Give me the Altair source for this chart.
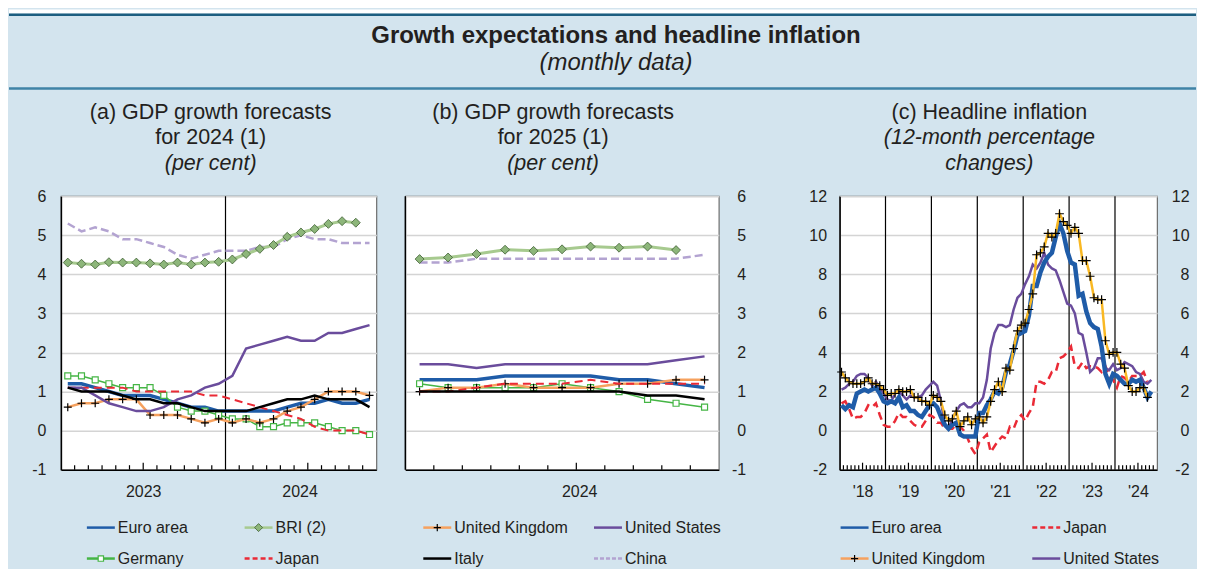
import altair as alt
import pandas as pd

FONT = "Liberation Sans"
BG = "#d3e4ee"
INK = "#231f20"

# ---------------- data ----------------
# Panel (a): GDP growth forecasts for 2024, monthly Jan 2023 - Nov 2024
A_EURO = [1.2, 1.2, 1.1, 1.0, 0.9, 0.9, 0.9, 0.8, 0.7, 0.6, 0.6, 0.5, 0.5, 0.5, 0.5, 0.5, 0.6, 0.7, 0.7, 0.8, 0.7, 0.7, 0.8]
A_BRI = [4.3, 4.27, 4.25, 4.31, 4.3, 4.3, 4.28, 4.25, 4.3, 4.25, 4.3, 4.32, 4.38, 4.52, 4.65, 4.75, 4.96, 5.07, 5.16, 5.29, 5.36, 5.32]
A_UK = [0.6, 0.7, 0.7, 0.8, 0.8, 0.8, 0.4, 0.4, 0.4, 0.3, 0.2, 0.3, 0.2, 0.3, 0.2, 0.3, 0.5, 0.6, 0.8, 1.0, 1.0, 1.0, 0.9]
A_US = [1.1, 1.1, 0.9, 0.7, 0.6, 0.5, 0.5, 0.6, 0.8, 0.9, 1.1, 1.2, 1.4, 2.1, 2.2, 2.3, 2.4, 2.3, 2.3, 2.5, 2.5, 2.6, 2.7]
A_GERMANY = [1.4, 1.4, 1.3, 1.2, 1.1, 1.1, 1.1, 0.9, 0.6, 0.5, 0.5, 0.4, 0.3, 0.3, 0.1, 0.1, 0.2, 0.2, 0.2, 0.1, 0.0, 0.0, -0.1]
A_JAPAN = [1.1, 1.1, 1.1, 1.1, 1.1, 1.0, 1.0, 1.0, 1.0, 1.0, 0.9, 0.9, 0.8, 0.7, 0.6, 0.5, 0.4, 0.3, 0.1, 0.0, 0.0, 0.0, -0.1]
A_ITALY = [1.1, 1.0, 1.0, 1.0, 0.9, 0.8, 0.8, 0.7, 0.7, 0.6, 0.5, 0.5, 0.5, 0.5, 0.6, 0.7, 0.8, 0.8, 0.9, 0.8, 0.8, 0.8, 0.6]
A_CHINA = [5.3, 5.1, 5.2, 5.1, 4.9, 4.9, 4.8, 4.7, 4.5, 4.4, 4.5, 4.6, 4.6, 4.6, 4.7, 4.7, 4.9, 5.0, 4.9, 4.9, 4.8, 4.8, 4.8]

# Panel (b): GDP growth forecasts for 2025, monthly Jan 2024 - Nov 2024
B_EURO = [1.3, 1.3, 1.3, 1.4, 1.4, 1.4, 1.4, 1.3, 1.3, 1.2, 1.1]
B_BRI = [4.39, 4.43, 4.52, 4.63, 4.6, 4.64, 4.71, 4.68, 4.71, 4.62]
B_UK = [1.0, 1.1, 1.1, 1.2, 1.1, 1.1, 1.1, 1.2, 1.2, 1.3, 1.3]
B_US = [1.7, 1.7, 1.6, 1.7, 1.7, 1.7, 1.7, 1.7, 1.7, 1.8, 1.9]
B_GERMANY = [1.2, 1.1, 1.1, 1.1, 1.1, 1.2, 1.1, 1.0, 0.8, 0.7, 0.6]
B_JAPAN = [1.0, 1.0, 1.1, 1.2, 1.2, 1.2, 1.3, 1.2, 1.2, 1.2, 1.2]
B_ITALY = [1.0, 1.0, 1.0, 1.0, 1.0, 1.0, 1.0, 1.0, 0.9, 0.9, 0.8]
B_CHINA = [4.3, 4.3, 4.4, 4.4, 4.4, 4.4, 4.4, 4.4, 4.4, 4.4, 4.5]

# Panel (c): headline inflation, 12-month % changes, monthly from Jan 2018
C_EURO = [1.3, 1.1, 1.3, 1.2, 1.9, 2.0, 2.1, 2.0, 2.1, 2.2, 1.9, 1.5,
          1.4, 1.5, 1.4, 1.7, 1.2, 1.3, 1.0, 1.0, 0.8, 0.7, 1.0, 1.3,
          1.4, 1.2, 0.7, 0.3, 0.1, 0.3, 0.4, -0.2, -0.3, -0.3, -0.3, -0.3,
          0.9, 0.9, 1.3, 1.6, 2.0, 1.9, 2.2, 3.0, 3.4, 4.1, 4.9, 5.0,
          5.1, 5.9, 7.4, 7.4, 8.1, 8.6, 8.9, 9.1, 9.9, 10.6, 10.1, 9.2,
          8.6, 8.5, 6.9, 7.0, 6.1, 5.5, 5.3, 5.2, 4.3, 2.9, 2.4, 2.9,
          2.8, 2.6, 2.4, 2.4, 2.6, 2.5, 2.6, 2.2, 1.7, 2.0]
C_UK = [3.0, 2.7, 2.5, 2.4, 2.4, 2.4, 2.5, 2.7, 2.4, 2.4, 2.3, 2.1,
        1.8, 1.9, 1.9, 2.1, 2.0, 2.0, 2.1, 1.7, 1.7, 1.5, 1.5, 1.3,
        1.8, 1.7, 1.5, 0.8, 0.5, 0.6, 1.0, 0.2, 0.5, 0.7, 0.3, 0.6,
        0.7, 0.4, 0.7, 1.5, 2.1, 2.5, 2.0, 3.2, 3.1, 4.2, 5.1, 5.4,
        5.5, 6.2, 7.0, 9.0, 9.1, 9.4, 10.1, 9.9, 10.1, 11.1, 10.7, 10.5,
        10.1, 10.4, 10.1, 8.7, 8.7, 7.9, 6.8, 6.7, 6.7, 4.6, 3.9, 4.0,
        4.0, 3.4, 3.2, 2.3, 2.0, 2.0, 2.2, 2.2, 1.7]
C_US = [2.1, 2.2, 2.4, 2.5, 2.8, 2.9, 2.9, 2.7, 2.3, 2.5, 2.2, 1.9,
        1.6, 1.5, 1.9, 2.0, 1.8, 1.6, 1.8, 1.7, 1.7, 1.8, 2.1, 2.3,
        2.5, 2.3, 1.5, 0.3, 0.1, 0.6, 1.0, 1.3, 1.4, 1.2, 1.2, 1.4,
        1.4, 1.7, 2.6, 4.2, 5.0, 5.4, 5.4, 5.3, 5.4, 6.2, 6.8, 7.0,
        7.5, 7.9, 8.5, 8.3, 8.6, 9.1, 8.5, 8.3, 8.2, 7.7, 7.1, 6.5,
        6.4, 6.0, 5.0, 4.9, 4.0, 3.0, 3.2, 3.7, 3.7, 3.2, 3.1, 3.4,
        3.1, 3.2, 3.5, 3.4, 3.3, 3.0, 2.9, 2.5, 2.4, 2.6]
C_JAPAN = [1.4, 1.5, 1.1, 0.6, 0.7, 0.7, 0.9, 1.3, 1.2, 1.4, 0.8, 0.3,
           0.2, 0.2, 0.5, 0.9, 0.7, 0.7, 0.5, 0.3, 0.2, 0.2, 0.5, 0.8,
           0.7, 0.4, 0.4, 0.1, 0.1, 0.1, 0.3, 0.2, 0.0, -0.4, -0.9, -1.2,
           -0.6, -0.4, -0.2, -1.1, -0.8, -0.5, -0.3, -0.4, 0.2, 0.1, 0.6, 0.8,
           0.5, 0.9, 1.2, 2.5, 2.5, 2.4, 2.6, 3.0, 3.0, 3.7, 3.8, 4.0,
           4.3, 3.3, 3.2, 3.5, 3.2, 3.3, 3.3, 3.2, 3.0, 3.3, 2.8, 2.6,
           2.2, 2.8, 2.7, 2.5, 2.8, 2.8, 2.8, 3.0, 2.5]

A_YEARS = ["2023", "2024"]
B_YEARS = ["2024"]
C_YEARS = ["'18", "'19", "'20", "'21", "'22", "'23", "'24"]

# ---------------- styles ----------------
PLUS = "M-1,0L1,0M0,-1L0,1"
STY = {
    "Euro area": dict(color="#1f5ca8", width=3.5),
    "BRI (2)": dict(color="#a7ca8f", width=3, marker="diamond"),
    "United Kingdom": dict(color="#f6a15e", width=2.5, marker="plus"),
    "United States": dict(color="#6a4c9c", width=2.5),
    "Germany": dict(color="#45b545", width=1.5, marker="square"),
    "Japan": dict(color="#ea2a36", width=2, dash=[8, 5], ldash=[5, 3]),
    "Italy": dict(color="#000000", width=2.5),
    "China": dict(color="#b3a3d1", width=2.5, dash=[8, 4], ldash=[4, 2]),
}
C_STY = {
    "Euro area": dict(color="#1f5ca8", width=4.5),
    "United Kingdom": dict(color="#f9b823", width=2.5, marker="plus"),
    "United States": dict(color="#6a4c9c", width=2.5),
    "Japan": dict(color="#ea2a36", width=2.5, dash=[8, 5], ldash=[5, 3]),
}
H = 274
one = pd.DataFrame({"k": [0]})

XAX = dict(ticks=False, tickSize=0, grid=False, domainColor="black", domainWidth=1.5,
           labelFontSize=16, labelColor=INK, labelFont=FONT, labelPadding=14,
           labelFlush=False, labelOverlap=False)
YAX = dict(ticks=False, tickSize=0, labelFontSize=16, labelColor=INK, labelFont=FONT,
           labelExpr="'' + datum.value", labelFlush=False, labelOverlap=False,
           gridColor="#d4d4d4", gridWidth=1.5)


def frame(values, offset=0.5):
    return pd.DataFrame({"m": [i + offset for i in range(len(values))], "v": values})


def marker_mark(kind, color, scale=1.0):
    if kind == "diamond":
        return dict(shape="diamond", filled=True, fill="#8db67a", stroke="#3f5e33",
                    strokeWidth=0.8, size=80 * scale, opacity=1)
    if kind == "square":
        return dict(shape="square", filled=True, fill="white", stroke=color,
                    strokeWidth=1.2, size=36 * scale, opacity=1)
    return dict(shape=PLUS, filled=False, stroke="black", strokeWidth=1.2,
                size=64 * scale, opacity=1)


def series(values, sty, xsc, ysc, xaxis=None, yaxis=None, msize=1.0):
    df = frame(values)
    kw = dict(color=sty["color"], strokeWidth=sty["width"])
    if "dash" in sty:
        kw["strokeDash"] = sty["dash"]
    enc = dict(x=alt.X("m:Q", scale=xsc, axis=xaxis, title=None),
               y=alt.Y("v:Q", scale=ysc, axis=yaxis, title=None))
    out = [alt.Chart(df).mark_line(**kw).encode(**enc)]
    if "marker" in sty:
        out.append(alt.Chart(df).mark_point(**marker_mark(sty["marker"], sty["color"], msize)).encode(
            x=alt.X("m:Q", scale=xsc, axis=None), y=alt.Y("v:Q", scale=ysc, axis=None)))
    return out


def ticks(positions, length, xsc):
    df = pd.DataFrame({"m": positions})
    return alt.Chart(df).mark_rule(color="black", strokeWidth=1.2).encode(
        x=alt.X("m:Q", scale=xsc, axis=None), y=alt.value(H), y2=alt.value(H - length))


def vlines(positions, xsc):
    df = pd.DataFrame({"m": positions})
    return alt.Chart(df).mark_rule(color="black", strokeWidth=1.2).encode(
        x=alt.X("m:Q", scale=xsc, axis=None))


def text(s, x, y, size=16, weight="normal", style="normal", align="center"):
    return alt.Chart(one).mark_text(text=s, fontSize=size, fontWeight=weight, fontStyle=style,
                                    align=align, baseline="middle", color=INK, font=FONT).encode(
        x=alt.value(x), y=alt.value(y))


def box(x, x2, y, y2, color):
    return alt.Chart(one).mark_rect(color=color).encode(
        x=alt.value(x), x2=alt.value(x2), y=alt.value(y), y2=alt.value(y2))


def legend_entry(label, sty, x, y):
    kw = dict(color=sty["color"], strokeWidth=2.5)
    if "ldash" in sty:
        kw["strokeDash"] = sty["ldash"]
    out = [alt.Chart(one).mark_rule(**kw).encode(x=alt.value(x), x2=alt.value(x + 28), y=alt.value(y))]
    if "marker" in sty:
        out.append(alt.Chart(one).mark_point(**marker_mark(sty["marker"], sty["color"], 0.8)).encode(
            x=alt.value(x + 14), y=alt.value(y)))
    out.append(text(label, x + 31, y, size=16, align="left"))
    return out


def panel_title(lines, x):
    ys = [-83, -58, -32]
    return [text(s, x, ys[i], size=21.5, style=("italic" if it else "normal"))
            for i, (s, it) in enumerate(lines)]


ORDER = ["China", "BRI (2)", "Euro area", "Germany", "United Kingdom", "Japan", "United States", "Italy"]

# page frame (relative to the plot origin of panel a); the whole chart must fit 1189 x 559
LEFT, RIGHT, TOP, BOTTOM = -52, 1137, -187, 372

# ---------------- panel (a) ----------------
xa = alt.Scale(domain=[0, 23], nice=False, zero=False)
ya = alt.Scale(domain=[-1, 6], nice=False, zero=False)
A_DATA = {"Euro area": A_EURO, "BRI (2)": A_BRI, "United Kingdom": A_UK, "United States": A_US,
          "Germany": A_GERMANY, "Japan": A_JAPAN, "Italy": A_ITALY, "China": A_CHINA}
ax_a_x = alt.Axis(values=[6, 17.4], labelExpr="datum.value == 6 ? '%s' : '%s'" % tuple(A_YEARS), **XAX)
ax_a_y = alt.Axis(values=list(range(-1, 7)), orient="left", grid=True, domainColor="black",
                  domainWidth=1.5, labelPadding=15, **YAX)

layers_a = [
    box(LEFT, RIGHT, TOP, TOP + 4, "white"),
    box(LEFT, RIGHT, TOP + 4, TOP + 6.5, "#1c5e80"),
    box(LEFT, RIGHT, -109, -106.5, "#3f83a6"),
    box(LEFT, RIGHT, BOTTOM - 4, BOTTOM, BG),
    text("Growth expectations and headline inflation", 556, -160, size=24, weight="bold"),
    text("(monthly data)", 556, -133, size=24, style="italic"),
]
layers_a += panel_title([("(a) GDP growth forecasts", False), ("for 2024 (1)", False), ("(per cent)", True)], 150)
layers_a.append(vlines([12], xa))
layers_a.append(ticks([m for m in range(1, 23) if m not in (6, 12, 18)], 4.5, xa))
layers_a.append(ticks([6, 18], 7, xa))
first = True
for name in ORDER:
    if first:
        layers_a += series(A_DATA[name], STY[name], xa, ya, ax_a_x, ax_a_y)
        first = False
    else:
        layers_a += series(A_DATA[name], STY[name], xa, ya)

LEG_AB = [["Euro area", "BRI (2)", "United Kingdom", "United States"],
          ["Germany", "Japan", "Italy", "China"]]
LEG_AB_X = [26, 184, 363, 534]
LEG_Y = [332, 363]
for r, row in enumerate(LEG_AB):
    for c, name in enumerate(row):
        layers_a += legend_entry(name, STY[name], LEG_AB_X[c], LEG_Y[r])

panel_a = alt.layer(*layers_a).resolve_axis(x="independent", y="independent").properties(width=316, height=H)

# ---------------- panel (b) ----------------
xb = alt.Scale(domain=[0, 11], nice=False, zero=False)
yb = alt.Scale(domain=[-1, 6], nice=False, zero=False)
B_DATA = {"Euro area": B_EURO, "BRI (2)": B_BRI, "United Kingdom": B_UK, "United States": B_US,
          "Germany": B_GERMANY, "Japan": B_JAPAN, "Italy": B_ITALY, "China": B_CHINA}
ax_b_x = alt.Axis(values=[6.1], labelExpr="'%s'" % B_YEARS[0], **XAX)
ax_b_y = alt.Axis(values=list(range(-1, 7)), orient="right", grid=True, domain=False,
                  labelAlign="right", labelPadding=27, **YAX)
layers_b = panel_title([("(b) GDP growth forecasts", False), ("for 2025 (1)", False), ("(per cent)", True)], 148)
layers_b.append(alt.Chart(one).mark_rule(color="black", strokeWidth=1.5).encode(
    x=alt.value(0), y=alt.value(0), y2=alt.value(H)))
layers_b.append(ticks([m for m in range(1, 11) if m != 6], 4.5, xb))
layers_b.append(ticks([6], 7, xb))
first = True
for name in ORDER:
    if first:
        layers_b += series(B_DATA[name], STY[name], xb, yb, ax_b_x, ax_b_y)
        first = False
    else:
        layers_b += series(B_DATA[name], STY[name], xb, yb)
panel_b = alt.layer(*layers_b).resolve_axis(x="independent", y="independent").properties(width=314, height=H)

# ---------------- spacer ----------------
spacer = alt.Chart(one).mark_point(opacity=0).encode(
    x=alt.X("k:Q", axis=None), y=alt.Y("k:Q", axis=None)
).properties(width=63, height=H, view=alt.ViewBackground(fillOpacity=0, strokeOpacity=0))

# ---------------- panel (c) ----------------
xc = alt.Scale(domain=[0, 83], nice=False, zero=False)
yc = alt.Scale(domain=[-2, 12], nice=False, zero=False)
C_YEAR_JS = "[" + ",".join("\"%s\"" % y for y in C_YEARS) + "]"
ax_c_x = alt.Axis(values=[6 + 12 * i for i in range(len(C_YEARS))],
                  labelExpr=C_YEAR_JS + "[floor(datum.value / 12)]", **XAX)
ax_c_yl = alt.Axis(values=list(range(-2, 13, 2)), orient="left", grid=True, domainColor="black",
                   domainWidth=1.5, labelPadding=13, **YAX)
ax_c_yr = alt.Axis(values=list(range(-2, 13, 2)), orient="right", grid=False, domain=False,
                   labelAlign="right", labelPadding=32, **YAX)
layers_c = panel_title([("(c) Headline inflation", False), ("(12-month percentage", True), ("changes)", True)], 150)
layers_c.append(vlines([12 * k for k in range(1, 7)], xc))
layers_c.append(ticks([m for m in range(1, 83) if m % 12 not in (0, 6)], 4.5, xc))
layers_c.append(ticks([m for m in range(1, 83) if m % 12 == 6], 7, xc))
layers_c += series(C_JAPAN, C_STY["Japan"], xc, yc, ax_c_x, ax_c_yl)
layers_c += series(C_US, C_STY["United States"], xc, yc, None, ax_c_yr)
layers_c += series(C_EURO, C_STY["Euro area"], xc, yc)
layers_c += series(C_UK, C_STY["United Kingdom"], xc, yc, msize=1.2)

LEG_C = [["Euro area", "Japan"], ["United Kingdom", "United States"]]
LEG_C_X = [1, 193]
LEG_C_STY = dict(C_STY)
LEG_C_STY["United Kingdom"] = dict(STY["United Kingdom"])
LEG_C_STY["Euro area"] = dict(STY["Euro area"])
for r, row in enumerate(LEG_C):
    for c, name in enumerate(row):
        layers_c += legend_entry(name, LEG_C_STY[name], LEG_C_X[c], LEG_Y[r])

panel_c = alt.layer(*layers_c).resolve_axis(x="independent", y="independent").properties(width=318, height=H)

chart = alt.hconcat(panel_a, panel_b, spacer, panel_c, spacing=29, bounds="flush").properties(
    padding=0
).configure(background=BG, font=FONT).configure_view(fill="white", stroke="#6e6e6e", strokeWidth=1.2)

chart.save("out.html", embed_options={"renderer": "svg", "actions": False})
